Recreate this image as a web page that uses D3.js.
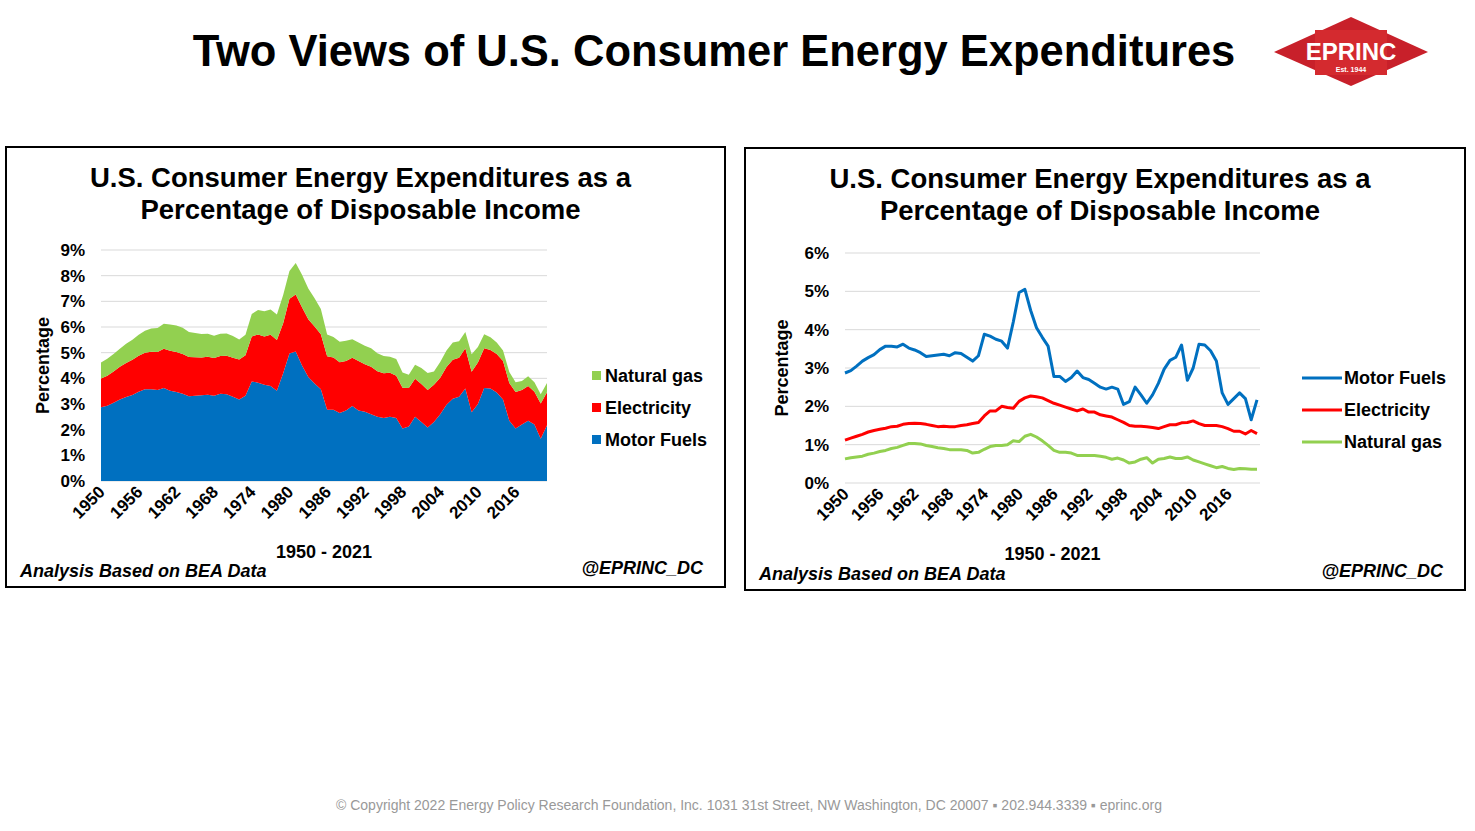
<!DOCTYPE html>
<html>
<head>
<meta charset="utf-8">
<script src="https://cdn.jsdelivr.net/npm/d3@7"></script>
<style>
body { margin: 0; background: #fff; font-family: "Liberation Sans", Arial, sans-serif; }
</style>
</head>
<body>
<script>
const width = 1475, height = 831;

// data, 1950 - 2021, percent of disposable income
const years = d3.range(1950, 2022);
const tickYears = [1950, 1956, 1962, 1968, 1974, 1980, 1986, 1992, 1998, 2004, 2010, 2016];
const motorFuels = [2.87,2.93,3.05,3.18,3.27,3.35,3.48,3.57,3.57,3.55,
  3.62,3.52,3.47,3.40,3.30,3.32,3.34,3.36,3.32,3.40,
  3.38,3.28,3.18,3.32,3.88,3.83,3.75,3.70,3.52,4.20,
  4.97,5.05,4.50,4.05,3.80,3.57,2.78,2.78,2.65,2.75,
  2.92,2.75,2.70,2.60,2.50,2.45,2.50,2.45,2.05,2.12,
  2.50,2.30,2.08,2.30,2.60,2.97,3.20,3.28,3.60,2.68,
  3.00,3.62,3.60,3.45,3.18,2.35,2.05,2.20,2.35,2.20,1.65,2.17];
const electricity = [1.12,1.17,1.22,1.27,1.33,1.37,1.40,1.43,1.47,1.48,
  1.53,1.55,1.56,1.55,1.53,1.50,1.47,1.48,1.47,1.47,
  1.50,1.52,1.55,1.58,1.75,1.88,1.88,2.00,1.97,1.95,
  2.13,2.22,2.27,2.25,2.22,2.15,2.08,2.03,1.98,1.93,
  1.88,1.93,1.85,1.85,1.78,1.75,1.72,1.65,1.58,1.50,
  1.48,1.48,1.47,1.45,1.42,1.47,1.52,1.52,1.57,1.58,
  1.62,1.55,1.50,1.50,1.50,1.47,1.42,1.35,1.35,1.28,1.37,1.29];
const naturalGas = [0.63,0.66,0.68,0.70,0.75,0.78,0.82,0.85,0.90,0.93,
  0.98,1.03,1.03,1.02,0.98,0.95,0.92,0.90,0.87,0.87,
  0.87,0.85,0.78,0.80,0.88,0.95,0.98,0.98,1.00,1.10,
  1.08,1.22,1.27,1.20,1.10,0.98,0.85,0.80,0.80,0.78,
  0.72,0.72,0.72,0.72,0.70,0.67,0.62,0.65,0.60,0.52,
  0.55,0.62,0.66,0.52,0.62,0.64,0.68,0.64,0.64,0.68,
  0.60,0.55,0.50,0.45,0.40,0.43,0.38,0.35,0.38,0.37,0.36,0.36];

const blue = "#0070c0", red = "#ff0000", green = "#92d050";

const svg = d3.select("body").append("svg").attr("width", width).attr("height", height);

svg.append("text").attr("x", 714).attr("y", 66).attr("text-anchor", "middle")
  .style("font-size", "43.5px").style("font-weight", "bold").text("Two Views of U.S. Consumer Energy Expenditures");

// logo
const logo = svg.append("g");
logo.append("path").attr("d", "M1274,52 L1351,17 L1428,52 L1351,86 Z").attr("fill", "#c8202a");
logo.append("rect").attr("x", 1315).attr("y", 30).attr("width", 72).attr("height", 45).attr("fill", "#d42a2f");
logo.append("text").attr("x", 1351).attr("y", 60).attr("text-anchor", "middle").attr("fill", "#fff")
  .style("font-size", "24px").style("font-weight", "bold").style("font-family", "Liberation Sans Narrow, sans-serif").text("EPRINC");
logo.append("text").attr("x", 1351).attr("y", 72).attr("text-anchor", "middle").attr("fill", "#fff")
  .style("font-size", "7px").style("font-weight", "bold").text("Est. 1944");

svg.append("text").attr("x", 749).attr("y", 810).attr("text-anchor", "middle").attr("fill", "#999")
  .style("font-size", "14px")
  .text("© Copyright 2022 Energy Policy Research Foundation, Inc. 1031 31st Street, NW Washington, DC 20007 ▪ 202.944.3339 ▪ eprinc.org");

function panel(bx, by, bw, bh) {
  const g = svg.append("g");
  g.append("rect").attr("x", bx).attr("y", by).attr("width", bw).attr("height", bh)
    .attr("fill", "#fff").attr("stroke", "#000").attr("stroke-width", 2);
  const cx = bx + bw / 2 - 5;
  ["U.S. Consumer Energy Expenditures as a", "Percentage of Disposable Income"].forEach((t, i) => {
    g.append("text").attr("x", cx).attr("y", by + 40 + i * 32).attr("text-anchor", "middle")
      .style("font-size", "27.5px").style("font-weight", "bold").style("font-family", "Arial, Liberation Sans, sans-serif").text(t);
  });
  g.append("text").attr("x", bx + 14).attr("y", by + bh - 10).style("font-size", "18px")
    .style("font-weight", "bold").style("font-style", "italic").text("Analysis Based on BEA Data");
  g.append("text").attr("x", bx + bw - 22).attr("y", by + bh - 13).attr("text-anchor", "end").style("font-size", "18px")
    .style("font-weight", "bold").style("font-style", "italic").text("@EPRINC_DC");
  return g;
}

function axes(g, x, y, yTicks, x0, x1, y0, labelX) {
  g.selectAll(".grid").data(yTicks).enter().append("line")
    .attr("x1", x0).attr("x2", x1).attr("y1", d => y(d)).attr("y2", d => y(d))
    .attr("stroke", "#d9d9d9").attr("stroke-width", 1);
  g.selectAll(".yl").data(yTicks).enter().append("text")
    .attr("x", x0 - 16).attr("y", d => y(d) + 6).attr("text-anchor", "end")
    .style("font-size", "17px").style("font-weight", "bold").text(d => d + "%");
  g.selectAll(".xl").data(tickYears).enter().append("text")
    .attr("transform", d => `translate(${x(d) + 5},${y0 + 12}) rotate(-45)`)
    .attr("text-anchor", "end").style("font-size", "17px").style("font-weight", "bold").text(d => d);
  g.append("text").attr("transform", `translate(${labelX},${(y(yTicks[yTicks.length - 1]) + y0) / 2}) rotate(-90)`)
    .attr("text-anchor", "middle").style("font-size", "18px").style("font-weight", "bold").text("Percentage");
  g.append("text").attr("x", (x0 + x1) / 2).attr("y", y0 + 77).attr("text-anchor", "middle")
    .style("font-size", "18px").style("font-weight", "bold").text("1950 - 2021");
}

// ---- left: stacked area
{
  const g = panel(6, 147, 719, 440);
  const x = d3.scaleLinear().domain([1950, 2021]).range([101, 547]);
  const y = d3.scaleLinear().domain([0, 9]).range([481, 250]);
  axes(g, x, y, d3.range(0, 10), 101, 547, 481, 49);
  const rows = years.map((yr, i) => ({ year: yr, mf: motorFuels[i], el: electricity[i], ng: naturalGas[i] }));
  const stack = d3.stack().keys(["mf", "el", "ng"])(rows);
  const colors = { mf: blue, el: red, ng: green };
  const area = d3.area().x(d => x(d.data.year)).y0(d => y(d[0])).y1(d => y(d[1]));
  g.selectAll(".ar").data(stack).enter().append("path").attr("d", area).attr("fill", d => colors[d.key]);
  const leg = [["Natural gas", green], ["Electricity", red], ["Motor Fuels", blue]];
  leg.forEach((l, i) => {
    g.append("rect").attr("x", 592).attr("y", 371 + i * 32).attr("width", 9).attr("height", 9).attr("fill", l[1]);
    g.append("text").attr("x", 605).attr("y", 382 + i * 32).style("font-size", "18px").style("font-weight", "bold").text(l[0]);
  });
}

// ---- right: lines
{
  const g = panel(745, 148, 720, 442);
  const x = d3.scaleLinear().domain([1950, 2021]).range([845, 1257]);
  const y = d3.scaleLinear().domain([0, 6]).range([483, 253]);
  axes(g, x, y, d3.range(0, 7), 845, 1260, 483, 788);
  const series = [[motorFuels, blue], [electricity, red], [naturalGas, green]];
  const line = d3.line().x((d, i) => x(years[i])).y(d => y(d));
  series.forEach(s => {
    g.append("path").datum(s[0]).attr("d", line).attr("fill", "none").attr("stroke", s[1])
      .attr("stroke-width", 3).attr("stroke-linejoin", "round");
  });
  const leg = [["Motor Fuels", blue], ["Electricity", red], ["Natural gas", green]];
  leg.forEach((l, i) => {
    g.append("line").attr("x1", 1302).attr("x2", 1342).attr("y1", 378 + i * 32).attr("y2", 378 + i * 32)
      .attr("stroke", l[1]).attr("stroke-width", 3);
    g.append("text").attr("x", 1344).attr("y", 384 + i * 32).style("font-size", "18px").style("font-weight", "bold").text(l[0]);
  });
}
</script>
</body>
</html>
